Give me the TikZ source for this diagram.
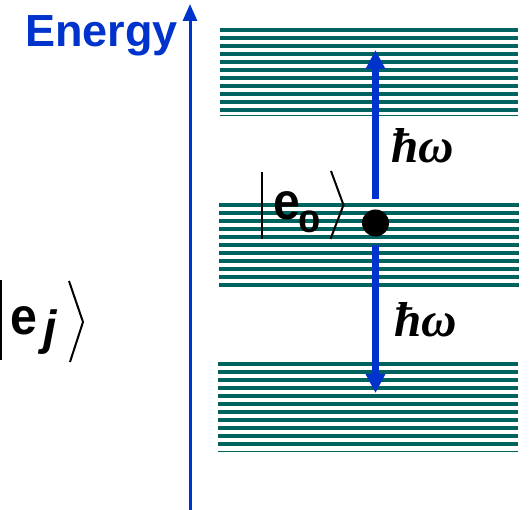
\documentclass[tikz,border=0pt]{standalone}
\usepackage{fontspec}
\newfontfamily\arialb{Liberation Sans}
\newfontfamily\timesf{Liberation Serif}
\usetikzlibrary{arrows.meta}
\definecolor{engblue}{RGB}{0,51,204}
\definecolor{bandteal}{RGB}{0,99,94}
\begin{document}
\begin{tikzpicture}[x=1pt,y=-1pt,
  stripe/.style={draw=bandteal,line width=3.5pt},
  thinline/.style={draw=bandteal,line width=1pt},
  axisarrow/.style={draw=engblue,line width=3pt,-{Triangle[length=17pt,width=14pt]}},
  transarrow/.style={draw=engblue,line width=6.5pt,-{Triangle[length=19pt,width=18.5pt]}},
  ketline/.style={draw=black,line width=2pt},
  lbl/.style={inner sep=0pt,anchor=base west},
  sansbig/.style={font=\arialb\bfseries\fontsize{46}{50}\selectfont},
  hwlbl/.style={inner sep=0pt,anchor=base west,font=\timesf\bfseries\itshape\fontsize{49}{52}\selectfont},
]
\useasboundingbox (0,0) rectangle (531,510);

% energy bands
\foreach \i in {0,...,10} {
  \draw[stripe] (220,{30+8*\i}) -- (518,{30+8*\i});
  \draw[stripe] (219,{205+8*\i}) -- (519,{205+8*\i});
  \draw[stripe] (218,{364+8*\i}) -- (518,{364+8*\i});
}
\draw[thinline] (220,115.5) -- (518,115.5);
\draw[thinline] (218,451.5) -- (518,451.5);

% energy axis
\coordinate (axbot) at (190,510);
\coordinate (axtop) at (190,4);
\draw[axisarrow] (axbot) -- (axtop);
\node[lbl,text=engblue,font=\arialb\bfseries\fontsize{45}{50}\selectfont] (energy) at (25,47) {Energy};

% initial state and transitions
\node[circle,fill=black,minimum size=27pt,inner sep=0pt] (dot) at (375.5,223) {};
\coordinate (upbase) at (375.5,199);
\coordinate (uptip) at (375.5,50);
\coordinate (dnbase) at (375.5,245);
\coordinate (dntip) at (375.5,393);
\draw[transarrow] (upbase) -- (uptip);
\draw[transarrow] (dnbase) -- (dntip);
\node[hwlbl] (hwup) at (391,163) {ħω};
\node[hwlbl] (hwdn) at (394,337) {ħω};

% |e_0>
\node[lbl,sansbig] (e0e) at (273,220) {\scalebox{1.05}[1.13]{e}};
\node[lbl,font=\arialb\bfseries\fontsize{31}{34}\selectfont] (e0sub) at (298,233) {\scalebox{1.3}[1]{0}};
\draw[ketline] (262.3,172) -- (262.3,239);
\draw[ketline] (331,171) -- (343.5,205) -- (330.5,239);

% |e_j>
\node[lbl,sansbig] (eje) at (10,335) {\scalebox{1.05}[1.13]{e}};
\node[lbl,font=\arialb\bfseries\itshape\fontsize{48}{50}\selectfont] (ejsub) at (43,345) {j};
\draw[ketline] (1.3,280) -- (1.3,360);
\draw[ketline] (69,281) -- (83,322) -- (70,362);
\end{tikzpicture}
\end{document}
